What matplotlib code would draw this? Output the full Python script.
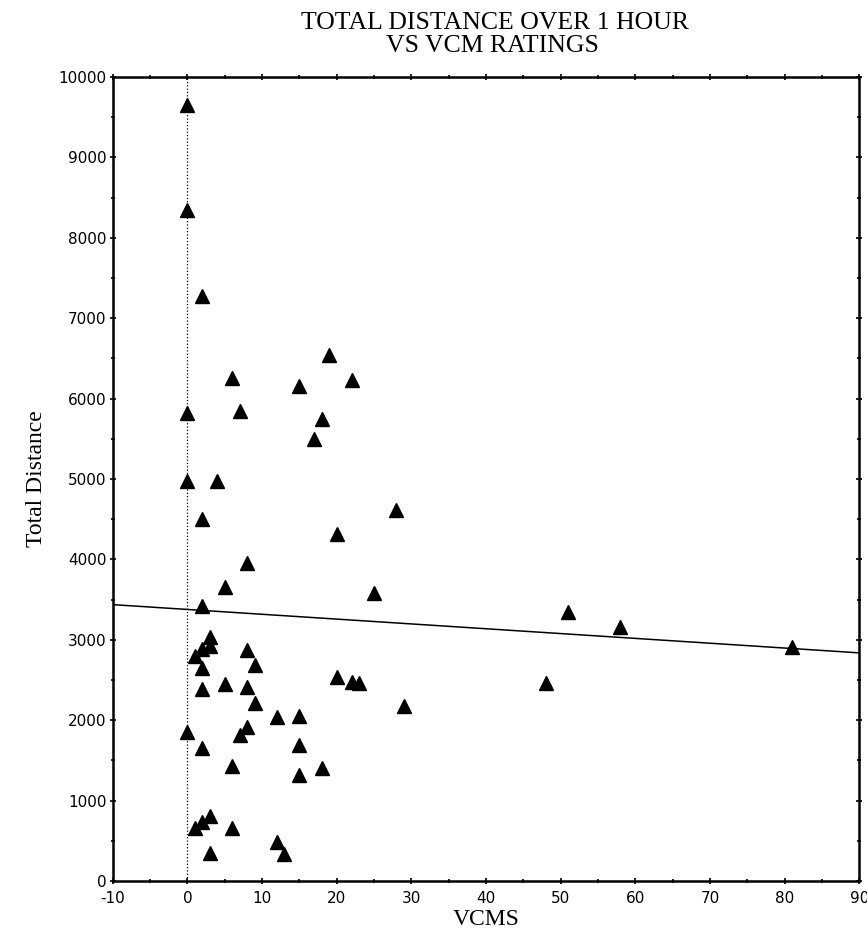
import matplotlib
matplotlib.use("Agg")
import matplotlib.pyplot as plt
from matplotlib.ticker import MultipleLocator
import numpy as np

# VCM ratings (x) and total distance over 1 hour (y)
vcms = [0, 0, 2, 19, 6, 15, 22, 0, 7, 18, 17, 0, 4, 2, 28, 20, 8, 5, 25,
        2, 3, 3, 2, 1, 8, 9, 2, 5, 8, 2, 20, 22, 23, 9, 12, 15, 8, 7, 0,
        2, 15, 6, 18, 15, 3, 2, 1, 6, 12, 13, 3, 51, 58, 81, 48, 29]
distance = [9650, 8340, 7280, 6540, 6250, 6160, 6230, 5820, 5840, 5750, 5500,
            4970, 4970, 4500, 4620, 4310, 3960, 3660, 3580,
            3420, 3030, 2920, 2880, 2800, 2870, 2680, 2650, 2450, 2410, 2390,
            2540, 2480, 2460, 2210, 2040, 2050, 1920, 1820, 1850,
            1650, 1690, 1430, 1400, 1320, 810, 730, 660, 660, 490, 340, 350,
            3340, 3160, 2910, 2460, 2180]

# fitted line shown on the chart
fit_intercept = 3377
fit_slope = -6.0

plt.rcParams['font.family'] = ['DejaVu Sans']
plt.rcParams['axes.unicode_minus'] = False

fig = plt.figure(figsize=(8.67, 9.36), dpi=100)
ax = fig.add_axes([0.130, 0.0588, 0.861, 0.859])

ax.plot(vcms, distance, linestyle='none', marker='^', markersize=10,
        color='black', markeredgecolor='black')

xs = np.array([-10, 90])
ax.plot(xs, fit_intercept + fit_slope * xs, color='black', linewidth=1.1)

# dotted reference line at zero
ax.axvline(0, color='black', linestyle=':', linewidth=0.9)

ax.set_xlim(-10, 90)
ax.set_ylim(0, 10000)
ax.xaxis.set_major_locator(MultipleLocator(10))
ax.xaxis.set_minor_locator(MultipleLocator(5))
ax.yaxis.set_major_locator(MultipleLocator(1000))
ax.yaxis.set_minor_locator(MultipleLocator(500))

ax.tick_params(which='both', direction='inout', top=True, right=True,
               labelsize=11, width=1.2)
ax.tick_params(which='major', length=5, pad=2)
ax.tick_params(axis='x', which='major', pad=5)
ax.tick_params(which='minor', length=3)
for sp in ax.spines.values():
    sp.set_linewidth(1.8)

serif = ['Liberation Serif', 'DejaVu Serif']
ax.set_xlabel('VCMS', family=serif, fontsize=17, labelpad=2)
ax.set_ylabel('Total Distance', family=serif, fontsize=17, labelpad=8)

fig.text(0.571, 0.969, 'TOTAL DISTANCE OVER 1 HOUR', ha='center',
         va='baseline', family=serif, fontsize=18.5)
fig.text(0.568, 0.9445, 'VS VCM RATINGS', ha='center',
         va='baseline', family=serif, fontsize=18.5)

plt.savefig('out.png', dpi=100, facecolor='white')
plt.close()
